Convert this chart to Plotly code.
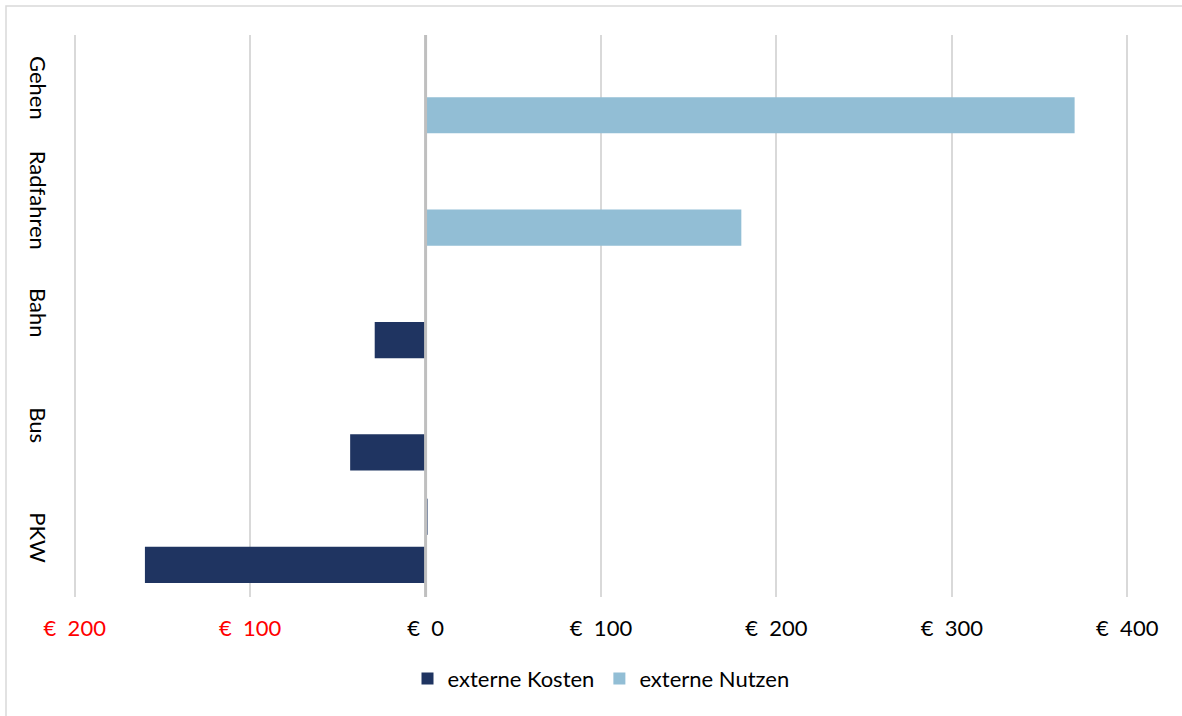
import plotly.graph_objects as go

# Verkehrsmittel (von oben nach unten)
kategorien = ["Gehen", "Radfahren", "Bahn", "Bus", "PKW"]

# Externe Kosten (negativ) und externe Nutzen (positiv) in Euro
externe_kosten = [0, 0, -29, -43, -160]
externe_nutzen = [370, 180, 0, 0, 0]
# kleiner Restwert in der oberen Balkenreihe
obere_reihe = [0, 0, 0, 0, 1.3]

# Achsenbeschriftung
tick_werte = [-200, -100, 0, 100, 200, 300, 400]

FARBE_KOSTEN = "#1F3461"
FARBE_NUTZEN = "#92BED5"
SCHRIFT = "Lato"
GROESSE = 22


def euro_label(v):
    text = f"€  {abs(v)}"
    if v < 0:
        return f'<span style="color:#FF0000">{text}</span>'
    return text


tick_text = [euro_label(v) for v in tick_werte]

fig = go.Figure()

# untere Balkenreihe je Kategorie
fig.add_trace(go.Bar(
    y=kategorien, x=externe_kosten, orientation="h",
    name="externe Kosten", marker=dict(color=FARBE_KOSTEN, line=dict(width=0)),
    offset=0.053, width=0.322,
))
fig.add_trace(go.Bar(
    y=kategorien, x=externe_nutzen, orientation="h",
    name="externe Nutzen", marker=dict(color=FARBE_NUTZEN, line=dict(width=0)),
    offset=0.053, width=0.322,
))
# obere Balkenreihe
fig.add_trace(go.Bar(
    y=kategorien, x=obere_reihe, orientation="h",
    showlegend=False, marker=dict(color="#6F7F9C", line=dict(width=0)),
    offset=-0.375, width=0.322,
))

fig.update_layout(
    width=1182, height=716,
    barmode="overlay",
    paper_bgcolor="white", plot_bgcolor="white",
    margin=dict(l=73, r=53, t=35, b=119),
    font=dict(family=SCHRIFT, size=GROESSE, color="#000000"),
    xaxis=dict(
        range=[-201, 401],
        tickvals=tick_werte, ticktext=tick_text,
        showgrid=True, gridcolor="#D9D9D9", gridwidth=2,
        zeroline=False, showline=False,
        ticks="", ticklabelstandoff=16,
        tickfont=dict(family=SCHRIFT, size=GROESSE),
    ),
    yaxis=dict(
        range=[4.5, -0.5],
        showgrid=False, zeroline=False, showline=False,
        ticks="", tickangle=90, ticklabelstandoff=20,
        tickfont=dict(family=SCHRIFT, size=GROESSE),
    ),
    legend=dict(
        orientation="h", x=0.5, xanchor="center",
        y=-0.108, yanchor="top",
        font=dict(family=SCHRIFT, size=GROESSE),
        itemwidth=30, tracegroupgap=0,
    ),
    shapes=[
        # Nulllinie
        dict(type="line", xref="x", yref="paper", x0=0, x1=0, y0=0, y1=1,
             line=dict(color="#BFBFBF", width=3), layer="above"),
        # Rahmen des Diagrammbereichs
        dict(type="rect", xref="paper", yref="paper",
             x0=-67 / 1056, x1=1.1, y0=-0.3, y1=1 + 29 / 562,
             line=dict(color="#D9D9D9", width=1.5), layer="below"),
    ],
)

fig.write_html("out.html")
